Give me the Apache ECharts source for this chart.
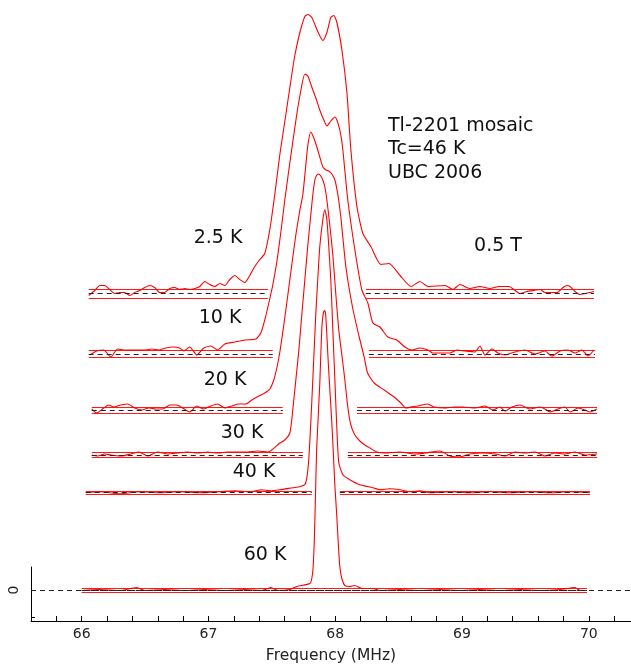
<!DOCTYPE html>
<html>
<head>
<meta charset="utf-8">
<script src="https://cdn.jsdelivr.net/npm/echarts@6/dist/echarts.min.js"></script>
<style>
  html, body { margin: 0; padding: 0; background: #fff; }
  #chart { width: 631px; height: 665px; }
</style>
</head>
<body>
<div id="chart"></div>
<script>
// Tl-2201 NMR lineshapes, stacked by temperature. Intensity is relative to each trace's own baseline.
const temperatures = ['2.5 K', '10 K', '20 K', '30 K', '40 K', '60 K'];
const offsets = [2.97, 2.365, 1.805, 1.355, 0.978, 0];
const noiseHalfWidth = [0.045, 0.037, 0.03, 0.025, 0.017, 0.022];
const baselineSegments = [
  [[66.055, 67.468], [68.241, 70.041]],
  [[66.055, 67.507], [68.265, 70.049]],
  [[66.079, 67.586], [68.171, 70.065]],
  [[66.079, 67.744], [68.099, 70.065]],
  [[66.032, 67.815], [68.036, 70.009]],
  [[66.000, 69.986]]
];
const xTickLabels = [66, 67, 68, 69, 70];

// [frequency MHz, intensity]
const trace2p5K = [
  [66.055,-0.02],[66.103,0.03],[66.142,0.08],[66.182,0.08],[66.221,0.04],[66.260,0.00],[66.300,0.01],
  [66.339,0.01],[66.379,-0.02],[66.418,0.01],[66.458,0.03],[66.497,0.06],[66.537,0.08],[66.576,0.06],
  [66.616,0.01],[66.655,0.01],[66.695,0.05],[66.734,0.06],[66.773,0.04],[66.813,0.05],[66.852,0.04],
  [66.892,0.05],[66.931,0.07],[66.971,0.12],[67.010,0.09],[67.050,0.07],[67.089,0.10],[67.129,0.08],
  [67.168,0.14],[67.208,0.18],[67.247,0.14],[67.287,0.11],[67.326,0.18],[67.365,0.27],[67.405,0.34],
  [67.444,0.40],[67.484,0.64],[67.523,0.99],[67.563,1.39],[67.602,1.72],[67.642,2.06],[67.681,2.38],
  [67.721,2.61],[67.760,2.77],[67.784,2.79],[67.815,2.76],[67.862,2.62],[67.902,2.53],[67.934,2.61],
  [67.965,2.76],[67.989,2.78],[68.013,2.71],[68.052,2.44],[68.092,2.01],[68.123,1.44],[68.171,0.87],
  [68.218,0.60],[68.281,0.47],[68.360,0.29],[68.423,0.30],[68.518,0.17],[68.597,0.07],[68.668,0.12],
  [68.731,0.07],[68.865,0.08],[68.928,0.04],[68.983,0.09],[69.062,0.05],[69.141,0.07],[69.220,0.05],
  [69.291,0.07],[69.370,0.07],[69.457,0.00],[69.512,0.02],[69.560,0.03],[69.615,0.04],[69.654,0.01],
  [69.694,0.01],[69.749,0.01],[69.796,0.06],[69.828,0.08],[69.852,0.07],[69.891,0.02],[69.931,-0.01],
  [69.970,0.00],[70.009,0.01],[70.041,0.02]
];
const trace10K = [
  [66.063,-0.01],[66.118,0.03],[66.174,0.04],[66.229,-0.03],[66.284,0.05],[66.339,0.04],[66.395,0.04],
  [66.450,0.04],[66.505,0.04],[66.552,0.05],[66.608,0.04],[66.663,0.06],[66.718,0.07],[66.773,0.06],
  [66.805,0.03],[66.852,0.07],[66.908,-0.01],[66.963,0.06],[67.018,0.08],[67.073,0.04],[67.129,0.10],
  [67.208,0.12],[67.287,0.14],[67.373,0.15],[67.413,0.21],[67.444,0.34],[67.476,0.51],[67.507,0.69],
  [67.539,0.92],[67.571,1.22],[67.602,1.54],[67.634,1.84],[67.665,2.12],[67.697,2.40],[67.728,2.63],
  [67.760,2.80],[67.784,2.78],[67.815,2.67],[67.847,2.56],[67.878,2.44],[67.910,2.34],[67.934,2.28],
  [67.965,2.33],[67.997,2.37],[68.021,2.31],[68.044,2.19],[68.060,2.04],[68.099,1.54],[68.155,1.04],
  [68.210,0.64],[68.257,0.51],[68.297,0.31],[68.352,0.27],[68.415,0.17],[68.486,0.14],[68.549,0.07],
  [68.605,0.04],[68.668,0.06],[68.731,0.04],[68.770,0.01],[68.841,0.01],[68.905,0.01],[68.960,0.04],
  [69.023,0.03],[69.102,0.02],[69.141,0.08],[69.181,-0.01],[69.236,0.05],[69.283,0.01],[69.339,-0.01],
  [69.418,0.02],[69.496,0.04],[69.575,0.00],[69.654,0.03],[69.709,-0.02],[69.773,0.03],[69.836,0.04],
  [69.891,0.01],[69.946,0.04],[69.994,-0.02],[70.041,0.04]
];
const trace20K = [
  [66.079,0.01],[66.118,-0.03],[66.174,0.02],[66.213,0.05],[66.253,0.03],[66.308,0.05],[66.363,0.06],
  [66.418,0.02],[66.474,0.00],[66.529,0.02],[66.584,0.01],[66.639,0.01],[66.695,0.05],[66.750,0.05],
  [66.797,0.02],[66.852,-0.02],[66.908,0.04],[66.963,0.01],[67.018,0.04],[67.073,0.06],[67.129,0.02],
  [67.184,0.04],[67.239,0.06],[67.294,0.06],[67.342,0.10],[67.397,0.14],[67.444,0.17],[67.484,0.21],
  [67.515,0.30],[67.539,0.42],[67.563,0.58],[67.594,0.85],[67.626,1.15],[67.657,1.45],[67.689,1.75],
  [67.721,2.00],[67.744,2.15],[67.768,2.45],[67.784,2.65],[67.807,2.78],[67.831,2.72],[67.855,2.63],
  [67.878,2.53],[67.902,2.43],[67.926,2.40],[67.949,2.39],[67.973,2.36],[67.997,2.30],[68.021,2.15],
  [68.044,1.93],[68.084,1.43],[68.136,1.03],[68.189,0.73],[68.228,0.53],[68.255,0.37],[68.307,0.27],
  [68.386,0.20],[68.465,0.13],[68.518,0.07],[68.557,0.02],[68.597,0.03],[68.650,0.04],[68.729,0.06],
  [68.781,0.03],[68.860,0.02],[68.939,0.03],[69.007,0.03],[69.102,0.02],[69.181,0.04],[69.244,0.00],
  [69.299,0.03],[69.339,-0.01],[69.394,0.03],[69.457,0.05],[69.536,0.01],[69.615,0.03],[69.654,0.01],
  [69.694,-0.02],[69.757,0.01],[69.812,0.03],[69.852,-0.02],[69.915,0.02],[69.970,0.00],[70.009,-0.02],
  [70.065,0.01]
];
const trace30K = [
  [66.079,0.00],[66.126,-0.01],[66.182,0.01],[66.229,0.00],[66.308,-0.01],[66.387,0.01],[66.450,0.03],
  [66.521,-0.01],[66.600,0.03],[66.679,0.01],[66.758,0.02],[66.837,0.03],[66.916,0.02],[66.994,0.03],
  [67.073,0.02],[67.152,0.03],[67.231,0.03],[67.310,0.03],[67.389,0.04],[67.468,0.03],[67.563,0.12],
  [67.602,0.15],[67.642,0.22],[67.665,0.45],[67.689,0.75],[67.713,1.05],[67.736,1.40],[67.760,1.75],
  [67.784,2.10],[67.807,2.40],[67.823,2.60],[67.839,2.75],[67.855,2.80],[67.870,2.81],[67.886,2.79],
  [67.902,2.75],[67.918,2.68],[67.934,2.55],[67.957,2.30],[67.981,2.00],[68.005,1.60],[68.028,1.25],
  [68.052,1.00],[68.076,0.75],[68.099,0.48],[68.123,0.30],[68.155,0.20],[68.194,0.14],[68.234,0.10],
  [68.273,0.07],[68.328,0.03],[68.391,0.02],[68.510,0.03],[68.628,0.01],[68.707,0.02],[68.826,0.04],
  [68.905,-0.01],[68.983,-0.02],[69.062,0.01],[69.165,0.02],[69.260,0.01],[69.339,-0.01],[69.418,0.03],
  [69.496,0.02],[69.575,0.03],[69.654,-0.01],[69.733,0.02],[69.812,0.01],[69.891,0.03],[69.970,0.00],
  [70.065,0.01]
];
const trace40K = [
  [66.032,0.00],[66.142,0.01],[66.300,-0.01],[66.458,0.01],[66.616,0.00],[66.773,0.01],[66.931,0.00],
  [67.089,0.01],[67.208,0.02],[67.326,0.01],[67.421,0.03],[67.484,0.02],[67.563,0.03],[67.665,0.05],
  [67.721,0.06],[67.760,0.08],[67.776,0.15],[67.792,0.35],[67.807,0.70],[67.823,1.13],[67.847,1.80],
  [67.862,2.13],[67.878,2.46],[67.902,2.73],[67.918,2.83],[67.934,2.73],[67.949,2.46],[67.965,2.13],
  [67.981,1.63],[67.997,1.13],[68.013,0.63],[68.028,0.30],[68.060,0.18],[68.115,0.13],[68.194,0.08],
  [68.297,0.05],[68.352,0.03],[68.431,0.04],[68.510,0.03],[68.589,0.01],[68.668,0.02],[68.747,0.00],
  [68.905,0.01],[69.062,0.00],[69.220,0.01],[69.378,0.00],[69.536,0.01],[69.694,0.00],[69.852,0.01],
  [70.009,0.00]
];
const trace60K = [
  [66.000,0.00],[66.142,0.01],[66.300,0.00],[66.434,0.03],[66.497,0.00],[66.655,0.01],[66.813,0.00],
  [66.971,0.01],[67.129,0.00],[67.287,0.01],[67.421,0.00],[67.492,0.03],[67.547,0.00],[67.642,0.01],
  [67.697,0.04],[67.800,0.07],[67.815,0.12],[67.826,0.24],[67.836,0.55],[67.844,0.95],[67.853,1.40],
  [67.866,1.75],[67.879,2.10],[67.893,2.60],[67.903,2.75],[67.915,2.80],[67.923,2.78],[67.932,2.60],
  [67.942,2.35],[67.953,2.10],[67.972,1.70],[67.984,1.40],[67.997,1.05],[68.011,0.77],[68.025,0.45],
  [68.036,0.24],[68.052,0.12],[68.076,0.05],[68.115,0.04],[68.155,0.05],[68.210,0.02],[68.297,0.02],
  [68.352,0.00],[68.510,0.01],[68.668,0.00],[68.826,0.01],[68.983,0.00],[69.141,0.01],[69.299,0.00],
  [69.457,0.01],[69.615,0.00],[69.773,0.01],[69.891,0.03],[69.931,0.00],[69.986,0.00]
];
const traces = [trace2p5K, trace10K, trace20K, trace30K, trace40K, trace60K];

const FONT = 'DejaVu Sans';
const X_MIN = 65.6, X_MAX = 70.333;
const RED = '#ff0000';
const DASH = '#222222';

const chart = echarts.init(document.getElementById('chart'), null, { renderer: 'canvas' });

// Invisible carrier series whose markLine draws horizontal guide segments.
function guideSeries(pairs, lineStyle, z) {
  return {
    type: 'line',
    xAxisIndex: 0,
    yAxisIndex: 0,
    data: [],
    silent: true,
    z: z,
    color: lineStyle.color,
    markLine: {
      silent: true,
      animation: false,
      symbol: ['none', 'none'],
      label: { show: false },
      emphasis: { disabled: true },
      lineStyle: lineStyle,
      data: pairs
    }
  };
}

const series = [];
const bandPairs = [];
const dashPairs = [];
traces.forEach((pts, i) => {
  series.push({
    type: 'line',
    xAxisIndex: 0,
    yAxisIndex: 0,
    data: pts.map(p => [p[0], p[1] + offsets[i]]),
    symbol: 'none',
    smooth: 0.2,
    color: RED,
    lineStyle: { color: RED, width: 1.1 },
    silent: true,
    z: 3
  });
  baselineSegments[i].forEach(([a, b]) => {
    [offsets[i] + noiseHalfWidth[i], offsets[i] - noiseHalfWidth[i]].forEach(y => {
      bandPairs.push([{ coord: [a, y] }, { coord: [b, y] }]);
    });
    dashPairs.push([{ coord: [a, offsets[i]] }, { coord: [b, offsets[i]] }]);
  });
});
// zero reference across the full frequency range
dashPairs.push({ yAxis: 0 });

series.push(guideSeries(bandPairs, { color: RED, width: 1, type: 'solid', opacity: 0.9 }, 2));
series.push(guideSeries(dashPairs, { color: DASH, width: 1, type: [5, 4], opacity: 1 }, 4));

const labelPos = [[218, 238], [220, 318], [225, 380], [242, 433], [254, 472], [265, 555]];
const LABEL_SIZE = 19;
const graphics = temperatures.map((t, i) => ({
  type: 'text', x: labelPos[i][0], y: labelPos[i][1], silent: true,
  style: { text: t, fontFamily: FONT, fontSize: LABEL_SIZE, fill: '#111', align: 'center', verticalAlign: 'middle' }
}));
graphics.push({
  type: 'text', x: 498, y: 246, silent: true,
  style: { text: '0.5 T', fontFamily: FONT, fontSize: LABEL_SIZE, fill: '#111', align: 'center', verticalAlign: 'middle' }
});
['Tl-2201 mosaic', 'Tc=46 K', 'UBC 2006'].forEach((t, k) => {
  graphics.push({
    type: 'text', x: 388, y: 126 + k * 23.5, silent: true,
    style: { text: t, fontFamily: FONT, fontSize: LABEL_SIZE, fill: '#111', align: 'left', verticalAlign: 'middle' }
  });
});

chart.setOption({
  animation: false,
  backgroundColor: '#ffffff',
  grid: [
    { left: 31, right: 0, top: 0, bottom: 43 },
    { left: 31, right: 0, top: 567, bottom: 43 }
  ],
  xAxis: [
    { type: 'value', gridIndex: 0, min: X_MIN, max: X_MAX, show: false },
    {
      type: 'value', gridIndex: 1, min: X_MIN, max: X_MAX, interval: 0.2,
      axisLine: { show: true, onZero: false, lineStyle: { color: '#000', width: 1 } },
      axisTick: { show: true, inside: true, length: 5, lineStyle: { color: '#000' } },
      axisLabel: {
        customValues: xTickLabels, formatter: v => String(Math.round(v)),
        fontFamily: FONT, fontSize: 14, color: '#222', margin: 6
      },
      splitLine: { show: false },
      name: 'Frequency (MHz)', nameLocation: 'middle', nameGap: 27,
      nameTextStyle: { fontFamily: FONT, fontSize: 15.5, color: '#222' }
    }
  ],
  yAxis: [
    { type: 'value', gridIndex: 0, min: -0.315, max: 5.905, show: false },
    {
      type: 'value', gridIndex: 1, min: -0.315, max: 0.235,
      axisLine: { show: true, onZero: false, lineStyle: { color: '#000', width: 1 } },
      axisTick: { show: true, inside: true, length: 4, customValues: [-0.275], lineStyle: { color: '#000' } },
      axisLabel: {
        customValues: [0], formatter: v => String(v), rotate: 90,
        fontFamily: FONT, fontSize: 14, color: '#222', margin: 10
      },
      splitLine: { show: false }
    }
  ],
  graphic: graphics,
  series: series
});
</script>
</body>
</html>
